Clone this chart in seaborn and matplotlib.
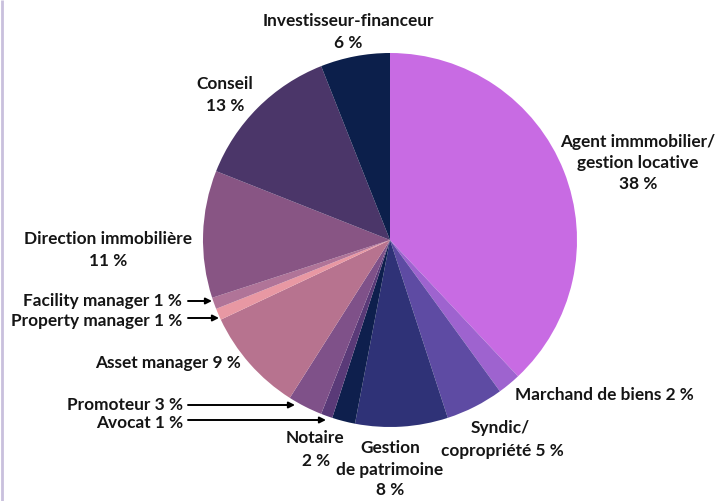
import matplotlib
matplotlib.use("Agg")
import matplotlib.pyplot as plt
import seaborn as sns

categories = ["Agent immmobilier/\ngestion locative", "Marchand de biens", "Syndic/\ncopropriété",
              "Gestion\nde patrimoine", "Notaire", "Avocat", "Promoteur", "Asset manager",
              "Property manager", "Facility manager", "Direction immobilière", "Conseil",
              "Investisseur-financeur"]
values = [38, 2, 5, 8, 2, 1, 3, 9, 1, 1, 11, 13, 6]
colors = ["#C86BE3", "#9E63CF", "#5E4BA3", "#2F3277", "#0E1F4D", "#5A3A78", "#7F5189",
          "#B7738F", "#E898A3", "#B07498", "#885584", "#4B3669", "#0C1F4B"]

sns.set_theme(style="white")
plt.rcParams['font.family'] = ['Lato', 'DejaVu Sans']

W, H = 728, 501
fig = plt.figure(figsize=(W / 100, H / 100), dpi=100)
ax = fig.add_axes([0, 0, 1, 1])

def Y(py):
    return H - py

ax.pie(values, colors=colors, startangle=90, counterclock=False,
       center=(390, Y(240)), radius=187, frame=True,
       wedgeprops=dict(linewidth=0))
ax.set_xlim(0, W)
ax.set_ylim(0, H)
ax.axis("off")

fs = 12.4
kw = dict(fontsize=fs, fontweight="bold", color="#151515", linespacing=1.4)

def lab(x, y, s, ha="center"):
    ax.text(x, Y(y), s, ha=ha, va="center", **kw)

lab(348, 32, f"Investisseur-financeur\n{values[12]} %")
lab(225, 95, f"Conseil\n{values[11]} %")
lab(638, 163, f"Agent immmobilier/\ngestion locative\n{values[0]} %")
lab(108, 250, f"Direction immobilière\n{values[10]} %")
lab(182, 301, f"Facility manager {values[9]} %", ha="right")
lab(182, 321, f"Property manager {values[8]} %", ha="right")
lab(241, 363, f"Asset manager {values[7]} %", ha="right")
lab(183, 405, f"Promoteur {values[6]} %", ha="right")
lab(183, 423, f"Avocat {values[5]} %", ha="right")
lab(315, 438, "Notaire")
lab(316, 461, f"{values[4]} %")
lab(390, 448, "Gestion")
lab(390, 470, "de patrimoine")
lab(390, 490, f"{values[3]} %")
lab(500, 428, "Syndic/")
lab(502, 451, f"copropriété {values[2]} %")
lab(604, 395, f"Marchand de biens {values[1]} %")

arrows = [((188, 301), (212, 301)), ((188, 318), (219, 318)),
          ((188, 405), (295, 405)), ((188, 420), (326, 420))]
for (x0, y0), (x1, y1) in arrows:
    ax.annotate("", xy=(x1, Y(y1)), xytext=(x0, Y(y0)),
                arrowprops=dict(arrowstyle="-|>", color="black", lw=1.4,
                                mutation_scale=9, shrinkA=0, shrinkB=0))

ax.plot([2, 2], [0, H], color="#C9C0DD", lw=2, solid_capstyle="butt")

fig.savefig("out.png", dpi=100)
